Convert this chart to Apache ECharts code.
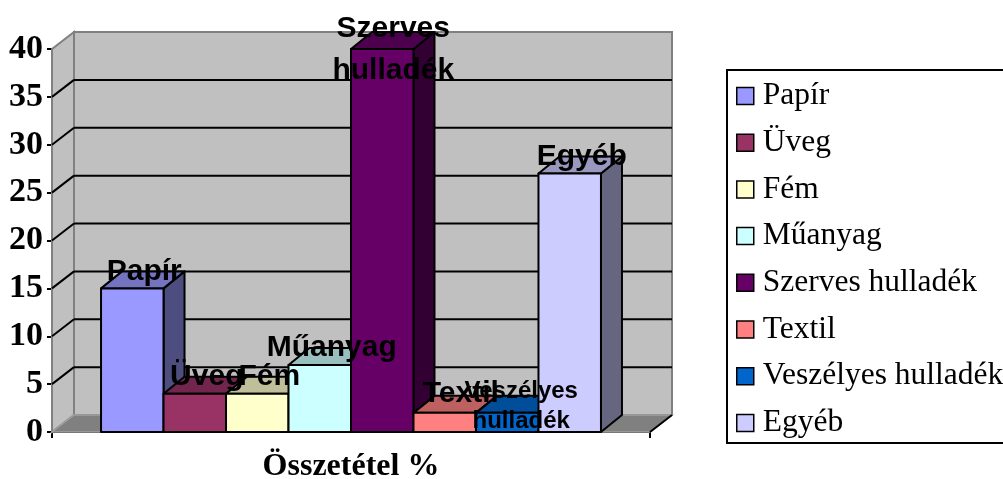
<!DOCTYPE html>
<html>
<head>
<meta charset="utf-8">
<script src="https://cdn.jsdelivr.net/npm/echarts@6/dist/echarts.min.js"></script>
<style>
html,body{margin:0;padding:0;background:#fff;}
#chart{width:1003px;height:479px;}
</style>
</head>
<body>
<div id="chart"></div>
<script>
// ---- data ----
const categories = ['Papír', 'Üveg', 'Fém', 'Műanyag', 'Szerves hulladék', 'Textil', 'Veszélyes hulladék', 'Egyéb'];
const values = [15, 4, 4, 7, 40, 2, 2, 27];
const colors = ['#9999FF', '#993366', '#FFFFCC', '#CCFFFF', '#660066', '#FF8080', '#0066CC', '#CCCCFF'];
const yMin = 0, yMax = 40, yStep = 5;
const axisTitle = 'Összetétel %';

// ---- style config ----
const WALL_DX = 22, WALL_DY = -17;
const BAR_DX = 21, BAR_DY = -17;
const GROUP_FRAC = 0.836;
const labelStyle = {
  default: { dx: 12, dy: -17, size: 30, lh: 34 },
  'Textil': { dx: 16, dy: -19, size: 30, lh: 34 },
  'Szerves hulladék': { dx: 11, dy: 1, size: 30, lh: 42 },
  'Veszélyes hulladék': { dx: 14, dy: -6, size: 24, lh: 30 }
};

function shade(hex, f) {
  const n = parseInt(hex.slice(1), 16);
  const r = Math.round(((n >> 16) & 255) * f), g = Math.round(((n >> 8) & 255) * f), b = Math.round((n & 255) * f);
  return 'rgb(' + r + ',' + g + ',' + b + ')';
}

function barGeom(api, i, v) {
  const top = api.coord([0, v]);
  const base = api.coord([0, 0]);
  const band = api.size([1, 0])[0];
  const bw = band * GROUP_FRAC / categories.length;
  const x0 = top[0] - bw * categories.length / 2 + i * bw;
  return { x0: x0, x1: x0 + bw, yT: top[1], yB: base[1] };
}

const chart = echarts.init(document.getElementById('chart'), null, { renderer: 'canvas' });

const series = [];

// walls / floor / gridlines
series.push({
  type: 'custom',
  name: '__walls',
  z: 1,
  silent: true,
  data: [[0, 0]],
  encode: { x: 0, y: 1 },
  renderItem: function (params, api) {
    const base = api.coord([0, yMin]);
    const topC = api.coord([0, yMax]);
    const band = api.size([1, 0])[0];
    const L = base[0] - band / 2, R = base[0] + band / 2;
    const y0 = base[1], yT = topC[1];
    const dx = WALL_DX, dy = WALL_DY;
    const children = [];
    children.push({ type: 'polygon', shape: { points: [[L, y0], [L + dx, y0 + dy], [L + dx, yT + dy], [L, yT]] },
      style: { fill: '#C0C0C0', stroke: '#808080', lineWidth: 2 } });
    children.push({ type: 'rect', shape: { x: L + dx, y: yT + dy, width: R - L, height: y0 - yT } ,
      style: { fill: '#C0C0C0', stroke: '#808080', lineWidth: 2 } });
    children.push({ type: 'polygon', shape: { points: [[L, y0], [L + dx, y0 + dy], [R + dx, y0 + dy], [R, y0]] },
      style: { fill: '#808080', stroke: '#A0A0A0', lineWidth: 1.5 } });
    children.push({ type: 'line', shape: { x1: R, y1: y0, x2: R + dx, y2: y0 + dy },
      style: { stroke: '#000', lineWidth: 2 } });
    for (let v = yMin + yStep; v < yMax; v += yStep) {
      const p = api.coord([0, v]);
      children.push({ type: 'line', shape: { x1: L + dx, y1: p[1] + dy, x2: R + dx, y2: p[1] + dy },
        style: { stroke: '#000', lineWidth: 2 } });
      children.push({ type: 'line', shape: { x1: L, y1: p[1], x2: L + dx, y2: p[1] + dy },
        style: { stroke: '#000', lineWidth: 2 } });
    }
    return { type: 'group', children: children };
  }
});

// bars
categories.forEach(function (name, i) {
  series.push({
    type: 'custom',
    name: name,
    z: 2,
    color: colors[i],
    itemStyle: { color: colors[i], borderColor: '#000', borderWidth: 1.5 },
    data: [[0, values[i]]],
    encode: { x: 0, y: 1 },
    renderItem: function (params, api) {
      const g = barGeom(api, i, api.value(1));
      const c = colors[i];
      const stroke = { stroke: '#000', lineWidth: 2, lineJoin: 'round' };
      return {
        type: 'group',
        children: [
          { type: 'polygon', shape: { points: [[g.x1, g.yT], [g.x1 + BAR_DX, g.yT + BAR_DY], [g.x1 + BAR_DX, g.yB + BAR_DY], [g.x1, g.yB]] },
            style: Object.assign({ fill: shade(c, 0.5) }, stroke) },
          { type: 'polygon', shape: { points: [[g.x0, g.yT], [g.x0 + BAR_DX, g.yT + BAR_DY], [g.x1 + BAR_DX, g.yT + BAR_DY], [g.x1, g.yT]] },
            style: Object.assign({ fill: shade(c, 0.75) }, stroke) },
          { type: 'rect', shape: { x: g.x0, y: g.yT, width: g.x1 - g.x0, height: g.yB - g.yT },
            style: Object.assign({ fill: c }, stroke) }
        ]
      };
    }
  });
});

// labels
series.push({
  type: 'custom',
  name: '__labels',
  z: 3,
  silent: true,
  data: values.map(function (v, i) { return [0, v, i]; }),
  encode: { x: 0, y: 1 },
  renderItem: function (params, api) {
    const i = api.value(2);
    const name = categories[i];
    const ls = labelStyle[name] || labelStyle.default;
    const g = barGeom(api, i, api.value(1));
    return {
      type: 'text',
      style: {
        x: (g.x0 + g.x1) / 2 + ls.dx,
        y: g.yT + ls.dy,
        text: name.replace(' ', '\n'),
        fill: '#000',
        fontFamily: 'Liberation Sans',
        fontWeight: 'bold',
        fontSize: ls.size,
        lineHeight: ls.lh,
        align: 'center',
        verticalAlign: 'middle'
      }
    };
  }
});

chart.setOption({
  animation: false,
  backgroundColor: '#fff',
  grid: { left: 52, right: 353, top: 49, bottom: 47, containLabel: false, outerBoundsMode: 'none' },
  xAxis: {
    type: 'category',
    data: [''],
    boundaryGap: true,
    name: axisTitle,
    nameLocation: 'middle',
    nameGap: 19,
    nameTextStyle: { fontFamily: 'Liberation Serif', fontWeight: 'bold', fontSize: 32, color: '#000' },
    axisLine: { lineStyle: { color: '#000', width: 2 } },
    axisTick: { show: true, length: 6, lineStyle: { color: '#000', width: 2 } },
    axisLabel: { show: false },
    splitLine: { show: false }
  },
  yAxis: {
    type: 'value',
    min: yMin, max: yMax, interval: yStep,
    axisLine: { show: true, lineStyle: { color: '#000', width: 2 } },
    axisTick: { show: true, length: 5, lineStyle: { color: '#000', width: 2 } },
    axisLabel: { margin: 9, color: '#000', fontFamily: 'Liberation Serif', fontWeight: 'bold', fontSize: 34 },
    splitLine: { show: false }
  },
  legend: {
    data: categories,
    orient: 'vertical',
    left: 727,
    top: 70,
    icon: 'rect',
    itemWidth: 17,
    itemHeight: 17,
    itemGap: 14.7,
    padding: [10, 12, 4, 9],
    borderColor: '#000',
    borderWidth: 2,
    backgroundColor: '#fff',
    selectedMode: false,
    itemStyle: { borderColor: '#000', borderWidth: 1.5 },
    textStyle: { fontFamily: 'Liberation Serif', fontSize: 31.5, lineHeight: 30, color: '#000', padding: [0, 0, 0, 4] }
  },
  series: series
});
</script>
</body>
</html>
